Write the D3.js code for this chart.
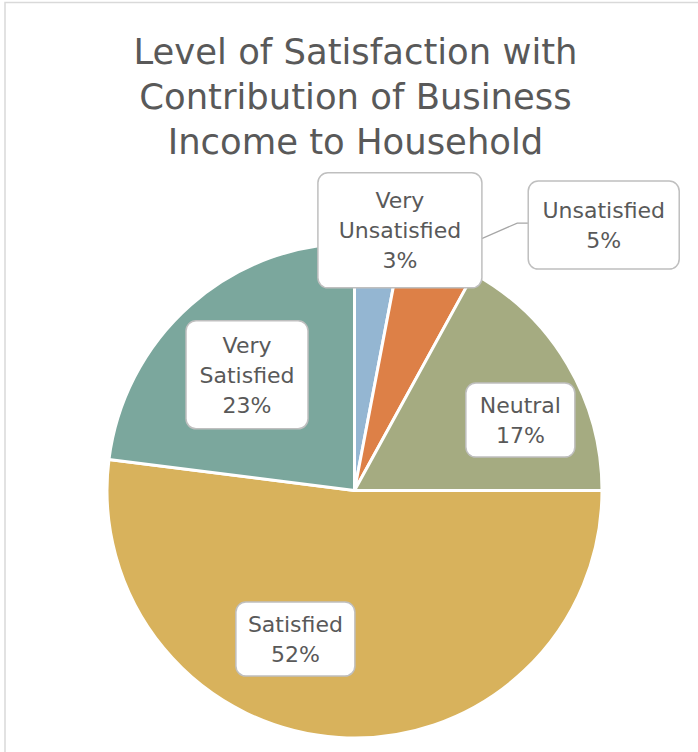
<!DOCTYPE html>
<html>
<head>
<meta charset="utf-8">
<script src="https://cdn.jsdelivr.net/npm/d3@7"></script>
<style>
  html, body { margin: 0; padding: 0; background: #fff; }
  svg { display: block; }
</style>
</head>
<body>
<script>
// Survey shares, clockwise from 12 o'clock
const categories = ["Very Unsatisfied", "Unsatisfied", "Neutral", "Satisfied", "Very Satisfied"];
const shares = [3, 5, 17, 52, 23];
const labelLines = [["Very", "Unsatisfied"], ["Unsatisfied"], ["Neutral"], ["Satisfied"], ["Very", "Satisfied"]];
const colors = ["#94B6D2", "#DD8047", "#A5AB81", "#D8B25C", "#7BA79D"];
const titleLines = ["Level of Satisfaction with", "Contribution of Business", "Income to Household"];

const W = 698, H = 752;
const cx = 354.5, cy = 490.5, R = 247.5;

// Label box placement: polar position (degrees clockwise from 12, distance in radii) and box size
const labelLayout = [
  { angle: 9.9,  dist: 1.067, w: 164, h: 115 },
  { angle: 43.2, dist: 1.471, w: 151, h: 88 },
  { angle: 67.0, dist: 0.728, w: 109, h: 74 },
  { angle: 201.7, dist: 0.646, w: 119, h: 74 },
  { angle: 317.1, dist: 0.638, w: 122, h: 108 }
];

const svg = d3.select("body").append("svg")
  .attr("width", W).attr("height", H);

// Chart frame (top and left edges visible)
svg.append("rect")
  .attr("x", 5).attr("y", 2.5).attr("width", W + 10).attr("height", H + 10)
  .attr("fill", "#fff").attr("stroke", "#D9D9D9").attr("stroke-width", 1.5);

const font = "'DejaVu Sans', sans-serif";
const textColor = "#595959";

// Title
svg.append("g").selectAll("text").data(titleLines).join("text")
  .attr("x", cx + 1)
  .attr("y", (d, i) => 64 + i * 45)
  .attr("text-anchor", "middle")
  .attr("font-family", font)
  .attr("font-size", 35.4)
  .attr("fill", textColor)
  .text(d => d);

const data = categories.map((c, i) => ({ name: c, value: shares[i], lines: labelLines[i], color: colors[i], layout: labelLayout[i] }));

const pie = d3.pie().sort(null).value(d => d.value);
const arcs = pie(data);
const arc = d3.arc().innerRadius(0).outerRadius(R);

const g = svg.append("g").attr("transform", `translate(${cx},${cy})`);

g.selectAll("path").data(arcs).join("path")
  .attr("d", arc)
  .attr("fill", d => d.data.color)
  .attr("stroke", "#fff")
  .attr("stroke-width", 3)
  .attr("stroke-linejoin", "round");

const polar = (deg, r) => {
  const a = deg * Math.PI / 180;
  return [r * Math.sin(a), -r * Math.cos(a)];
};

// Leader line for the label placed outside the pie
arcs.forEach(a => {
  const L = a.data.layout;
  if (L.dist > 1.3) {
    const mid = (a.startAngle + a.endAngle) / 2 * 180 / Math.PI;
    const p0 = polar(mid, R);
    const c = polar(L.angle, L.dist * R);
    const left = c[0] - L.w / 2;
    const yc = c[1] - 2;
    g.append("polyline")
      .attr("points", [p0, [left - 11, yc], [left, yc]].map(p => p.join(",")).join(" "))
      .attr("fill", "none")
      .attr("stroke", "#A6A6A6")
      .attr("stroke-width", 1.2);
  }
});

const labels = g.selectAll("g.lbl").data(arcs).join("g")
  .attr("class", "lbl")
  .attr("transform", d => {
    const p = polar(d.data.layout.angle, d.data.layout.dist * R);
    return `translate(${p[0]},${p[1]})`;
  });

labels.append("rect")
  .attr("x", d => -d.data.layout.w / 2)
  .attr("y", d => -d.data.layout.h / 2)
  .attr("width", d => d.data.layout.w)
  .attr("height", d => d.data.layout.h)
  .attr("rx", 10).attr("ry", 10)
  .attr("fill", "#fff")
  .attr("stroke", "#BFBFBF")
  .attr("stroke-width", 1.5);

const lineH = 30;
labels.each(function(d) {
  const lines = d.data.lines.concat([d.data.value + "%"]);
  const n = lines.length;
  d3.select(this).selectAll("text").data(lines).join("text")
    .attr("x", 0)
    .attr("y", (t, i) => (i - (n - 1) / 2) * lineH + 8)
    .attr("text-anchor", "middle")
    .attr("font-family", font)
    .attr("font-size", 22)
    .attr("fill", textColor)
    .text(t => t);
});
</script>
</body>
</html>
